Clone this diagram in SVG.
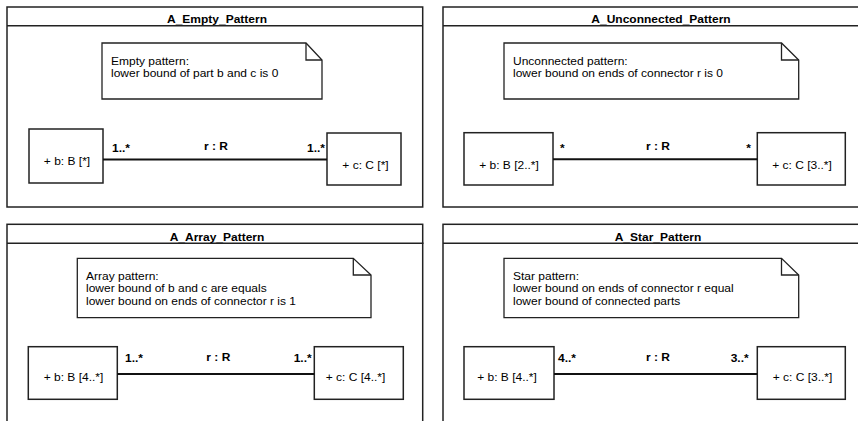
<svg xmlns="http://www.w3.org/2000/svg" width="858" height="421" viewBox="0 0 858 421">
<style>
.frame{fill:#fff;stroke:#222;stroke-width:1.5}
.hdr{stroke:#222;stroke-width:1.5;fill:none}
.note{fill:#fff;stroke:#222;stroke-width:1.3}
.fold{fill:none;stroke:#222;stroke-width:1.3}
.part{fill:#fff;stroke:#222;stroke-width:1.5}
.conn{stroke:#111;stroke-width:2;fill:none}
text{font-family:"Liberation Sans",Arial,sans-serif;font-size:12px;fill:#000}
.b{font-weight:bold}
.m{text-anchor:middle}
.e{text-anchor:end}
</style>
<rect width="858" height="421" fill="#fff"/>

<g id="frame_empty">
<rect class="frame" x="7" y="7" width="415.7" height="200"/>
<line class="hdr" x1="7" y1="25.7" x2="422.7" y2="25.7"/>
<text class="b m" transform="matrix(1 0 0 0.875 217 22.5)">A_Empty_Pattern</text>
</g>
<g id="note_empty">
<path class="note" d="M102,43 H306 L322,60 V99 H102 Z"/>
<path class="fold" d="M306,43 V60 H322"/>
<text transform="matrix(1 0 0 0.875 111 65)"><tspan x="0" y="0">Empty pattern:</tspan><tspan x="0" y="14.3">lower bound of part b and c is 0</tspan></text>
</g>
<g id="empty_b">
<rect class="part" x="29" y="129" width="74" height="54"/>
<text class="m" transform="matrix(1 0 0 0.875 67 165)">+ b: B [*]</text>
</g>
<g id="empty_c">
<rect class="part" x="327" y="133" width="74" height="52"/>
<text class="m" transform="matrix(1 0 0 0.875 365.5 168.5)">+ c: C [*]</text>
</g>

<g id="frame_unconnected">
<rect class="frame" x="443" y="7" width="437" height="200"/>
<line class="hdr" x1="443" y1="25.7" x2="880" y2="25.7"/>
<text class="b m" transform="matrix(1 0 0 0.875 661 22.5)">A_Unconnected_Pattern</text>
</g>
<g id="note_unconnected">
<path class="note" d="M504,43 H781.5 L798.7,60 V99 H504 Z"/>
<path class="fold" d="M781.5,43 V60 H798.7"/>
<text transform="matrix(1 0 0 0.875 513 65)"><tspan x="0" y="0">Unconnected pattern:</tspan><tspan x="0" y="14.3">lower bound on ends of connector r is 0</tspan></text>
</g>
<g id="unconnected_b">
<rect class="part" x="464" y="132.7" width="89" height="52.3"/>
<text class="m" transform="matrix(1 0 0 0.875 509 168.5)">+ b: B [2..*]</text>
</g>
<g id="unconnected_c">
<rect class="part" x="757.3" y="132.7" width="88" height="52.3"/>
<text class="m" transform="matrix(1 0 0 0.875 802 168.5)">+ c: C [3..*]</text>
</g>

<g id="frame_array">
<rect class="frame" x="7" y="224.3" width="415.7" height="220"/>
<line class="hdr" x1="7" y1="243.3" x2="423.5" y2="243.3"/>
<text class="b m" transform="matrix(1 0 0 0.875 217 240.5)">A_Array_Pattern</text>
</g>
<g id="note_array">
<path class="note" d="M77.3,258.3 H353.3 L371,275 V317.7 H77.3 Z"/>
<path class="fold" d="M353.3,258.3 V275 H371"/>
<text transform="matrix(1 0 0 0.875 86 280)"><tspan x="0" y="0">Array pattern:</tspan><tspan x="0" y="14.3">lower bound of b and c are equals</tspan><tspan x="0" y="28.6">lower bound on ends of connector r is 1</tspan></text>
</g>
<g id="array_b">
<rect class="part" x="28.3" y="346.7" width="89" height="52.6"/>
<text class="m" transform="matrix(1 0 0 0.875 73.5 381)">+ b: B [4..*]</text>
</g>
<g id="array_c">
<rect class="part" x="314.3" y="346.7" width="89" height="52.6"/>
<text class="m" transform="matrix(1 0 0 0.875 355.5 381)">+ c: C [4..*]</text>
</g>

<g id="frame_star">
<rect class="frame" x="443" y="224.3" width="437" height="220"/>
<line class="hdr" x1="443" y1="243.3" x2="880" y2="243.3"/>
<text class="b m" transform="matrix(1 0 0 0.875 658 240.5)">A_Star_Pattern</text>
</g>
<g id="note_star">
<path class="note" d="M504,258.3 H781.5 L798.7,275 V317.7 H504 Z"/>
<path class="fold" d="M781.5,258.3 V275 H798.7"/>
<text transform="matrix(1 0 0 0.875 513 280)"><tspan x="0" y="0">Star pattern:</tspan><tspan x="0" y="14.3">lower bound on ends of connector r equal</tspan><tspan x="0" y="28.6">lower bound of connected parts</tspan></text>
</g>
<g id="star_b">
<rect class="part" x="464" y="346.7" width="90" height="52.6"/>
<text class="m" transform="matrix(1 0 0 0.875 507 381)">+ b: B [4..*]</text>
</g>
<g id="star_c">
<rect class="part" x="757.3" y="346.7" width="88" height="52.6"/>
<text class="m" transform="matrix(1 0 0 0.875 802.5 381)">+ c: C [3..*]</text>
</g>

<g id="connectors">
<line class="conn" x1="103" y1="159.5" x2="327" y2="159.5"/>
<text class="b" transform="matrix(1 0 0 0.875 112 151.7)">1..*</text>
<text class="b e" transform="matrix(1 0 0 0.875 325 151.7)">1..*</text>
<text class="b m" transform="matrix(1 0 0 0.875 216 150)">r : R</text>

<line class="conn" x1="553" y1="159.3" x2="757.3" y2="159.3"/>
<text class="b" transform="matrix(1 0 0 0.875 560 151.7)">*</text>
<text class="b e" transform="matrix(1 0 0 0.875 751 151.7)">*</text>
<text class="b m" transform="matrix(1 0 0 0.875 658 150)">r : R</text>

<line class="conn" x1="117.3" y1="374" x2="314.3" y2="374"/>
<text class="b" transform="matrix(1 0 0 0.875 125 361.7)">1..*</text>
<text class="b e" transform="matrix(1 0 0 0.875 311.7 361.7)">1..*</text>
<text class="b m" transform="matrix(1 0 0 0.875 218.3 360.7)">r : R</text>

<line class="conn" x1="554" y1="374" x2="757.3" y2="374"/>
<text class="b" transform="matrix(1 0 0 0.875 558 361.7)">4..*</text>
<text class="b e" transform="matrix(1 0 0 0.875 748.7 361.7)">3..*</text>
<text class="b m" transform="matrix(1 0 0 0.875 658 360.7)">r : R</text>
</g>
</svg>
